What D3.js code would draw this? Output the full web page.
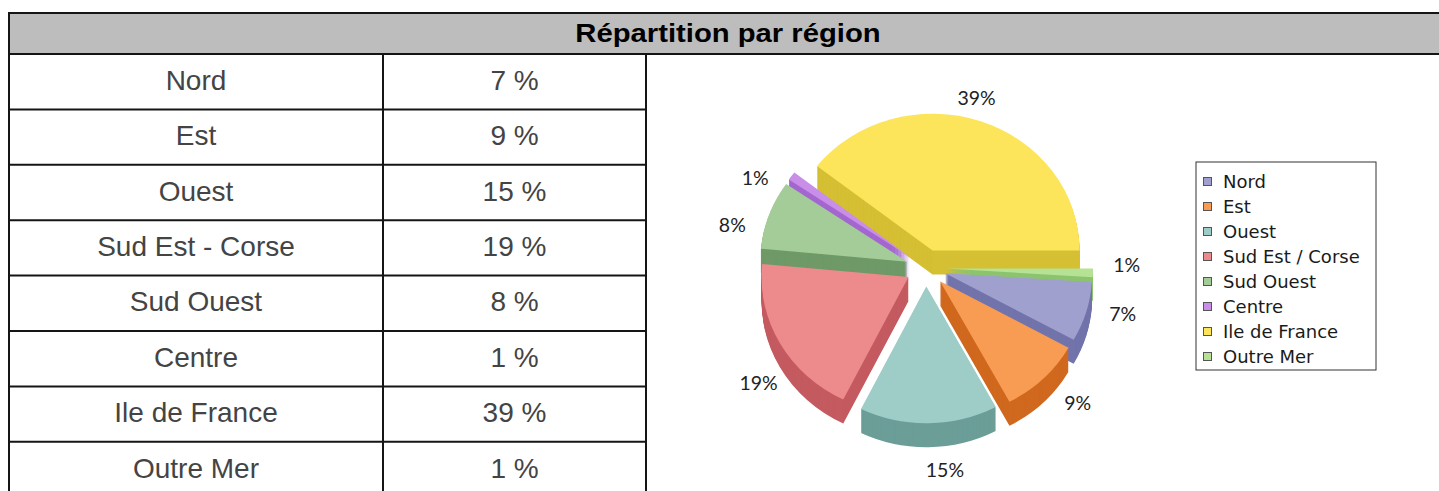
<!DOCTYPE html>
<html>
<head>
<meta charset="utf-8">
<script src="https://cdn.jsdelivr.net/npm/d3@7"></script>
<style>
  body { margin: 0; background: #fff; overflow: hidden; }
</style>
</head>
<body>
<div id="chart"></div>
<script>
// data
const title = 'Répartition par région';
const regions = ['Nord', 'Est', 'Ouest', 'Sud Est - Corse', 'Sud Ouest', 'Centre', 'Ile de France', 'Outre Mer'];
const legendNames = ['Nord', 'Est', 'Ouest', 'Sud Est / Corse', 'Sud Ouest', 'Centre', 'Ile de France', 'Outre Mer'];
const shares = [7, 9, 15, 19, 8, 1, 39, 1];

const topColors = ['#9fa0ce', '#f89c54', '#9ecdc8', '#ec8a8c', '#a4cc98', '#c88ee8', '#fce55a', '#b6e296'];
const sideColors = ['#7274ab', '#d0691f', '#6c9e98', '#c45b60', '#6f9a68', '#a466cf', '#d5bf33', '#8cc46e'];

const W = 1439, H = 491;
const svg = d3.select('#chart').append('svg')
  .attr('width', W)
  .attr('height', H);

// ---- table ----
const T = { left: 9, top: 13, head: 54, col1: 383, col2: 646, right: 1449, rowH: 55.4 };
const rowBand = d3.scaleBand()
  .domain(regions)
  .range([T.head, T.head + regions.length * T.rowH]);
const lineColor = '#151515';

svg.append('rect')
  .attr('x', T.left).attr('y', T.top)
  .attr('width', T.right - T.left).attr('height', T.head - T.top)
  .attr('fill', '#bdbdbd');

svg.append('text')
  .attr('transform', `translate(${(T.left + T.right) / 2 - 1},41.5) scale(1.17,1)`)
  .attr('text-anchor', 'middle')
  .style('font-family', '"Liberation Sans", Arial, sans-serif')
  .style('font-weight', 'bold')
  .style('font-size', '25px')
  .attr('fill', '#000')
  .text(title);

const lines = svg.append('g')
  .attr('stroke', lineColor)
  .attr('stroke-width', 2);
lines.append('line').attr('x1', T.left).attr('x2', T.right).attr('y1', T.top).attr('y2', T.top);
lines.append('line').attr('x1', T.left).attr('x2', T.right).attr('y1', T.head).attr('y2', T.head);
[T.left, T.col1, T.col2].forEach(x => {
  lines.append('line').attr('x1', x).attr('x2', x).attr('y1', x === T.left ? T.top - 1 : T.head).attr('y2', H + 10);
});
lines.selectAll('line.row')
  .data(regions)
  .join('line')
  .attr('class', 'row')
  .attr('x1', T.left).attr('x2', T.col2)
  .attr('y1', d => rowBand(d) + rowBand.bandwidth())
  .attr('y2', d => rowBand(d) + rowBand.bandwidth());

const cells = svg.append('g')
  .style('font-family', '"Liberation Sans", Arial, sans-serif')
  .style('font-size', '28px')
  .attr('fill', '#444')
  .attr('text-anchor', 'middle');
cells.selectAll('text.name')
  .data(regions)
  .join('text')
  .attr('class', 'name')
  .attr('x', (T.left + T.col1) / 2)
  .attr('y', d => rowBand(d) + rowBand.bandwidth() / 2 + 8)
  .text(d => d);
cells.selectAll('text.val')
  .data(shares)
  .join('text')
  .attr('class', 'val')
  .attr('x', (T.col1 + T.col2) / 2)
  .attr('y', (d, i) => rowBand(regions[i]) + rowBand.bandwidth() / 2 + 8)
  .text(d => `${d} %`);

// ---- 3d exploded pie ----
const P = { cx: 926, cy: 268, r: 147, tilt: 0.93, depth: 24, explode: 20 };
const total = d3.sum(shares);
const start = Math.PI / 2 + 2 * Math.PI * shares[shares.length - 1] / total;
const pie = d3.pie().sort(null).startAngle(start).endAngle(start + 2 * Math.PI);
const arc = d3.arc().innerRadius(0).outerRadius(P.r);
const topColor = d3.scaleOrdinal().domain(legendNames).range(topColors);
const sideColor = d3.scaleOrdinal().domain(legendNames).range(sideColors);

const slices = pie(shares).map((d, i) => {
  const mid = (d.startAngle + d.endAngle) / 2;
  return Object.assign(d, {
    name: legendNames[i],
    mid: mid,
    ox: P.explode * Math.sin(mid),
    oy: -P.explode * Math.cos(mid) * P.tilt
  });
});

const pieG = svg.append('g');
// back slices first
slices.slice().sort((a, b) => Math.cos(b.mid) - Math.cos(a.mid)).forEach(d => {
  const g = pieG.append('g');
  // extruded side, stacked copies
  g.selectAll('path.side')
    .data(d3.range(P.depth, 0, -1))
    .join('path')
    .attr('class', 'side')
    .attr('d', arc(d))
    .attr('transform', k => `translate(${P.cx + d.ox},${P.cy + d.oy + k}) scale(1,${P.tilt})`)
    .attr('fill', sideColor(d.name));
  g.append('path')
    .attr('d', arc(d))
    .attr('transform', `translate(${P.cx + d.ox},${P.cy + d.oy}) scale(1,${P.tilt})`)
    .attr('fill', topColor(d.name));
});

// percentage labels around the pie
const L = { cx: 926, cy: 273, r: 201, tilt: 0.9, turn: -4.5 * Math.PI / 180 };
pieG.append('g')
  .selectAll('text')
  .data(slices)
  .join('text')
  .attr('x', d => L.cx + L.r * Math.sin(d.mid + L.turn))
  .attr('y', d => {
    const c = Math.cos(d.mid + L.turn);
    return L.cy - L.r * c * L.tilt + Math.max(0, -c) * P.depth * 0.7;
  })
  .attr('text-anchor', 'middle')
  .attr('dominant-baseline', 'central')
  .style('font-family', 'Lato, "DejaVu Sans", sans-serif')
  .style('font-size', '19.5px')
  .attr('fill', '#222')
  .text(d => `${d.data}%`);

// ---- legend ----
const legend = svg.append('g').attr('transform', 'translate(1196,162)');
legend.append('rect')
  .attr('width', 180).attr('height', 208)
  .attr('fill', '#fff')
  .attr('stroke', '#333')
  .attr('stroke-width', 1);
const item = legend.selectAll('g.item')
  .data(legendNames)
  .join('g')
  .attr('class', 'item')
  .attr('transform', (d, i) => `translate(0,${26 + i * 25})`);
item.append('rect')
  .attr('x', 7.5).attr('y', -10.5)
  .attr('width', 8).attr('height', 8)
  .attr('fill', d => topColor(d))
  .attr('stroke', '#555')
  .attr('stroke-width', 1);
item.append('text')
  .attr('x', 27)
  .attr('y', 0)
  .style('font-family', '"DejaVu Sans", sans-serif')
  .style('font-size', '18px')
  .attr('fill', '#1a1a1a')
  .text(d => d);
</script>
</body>
</html>
